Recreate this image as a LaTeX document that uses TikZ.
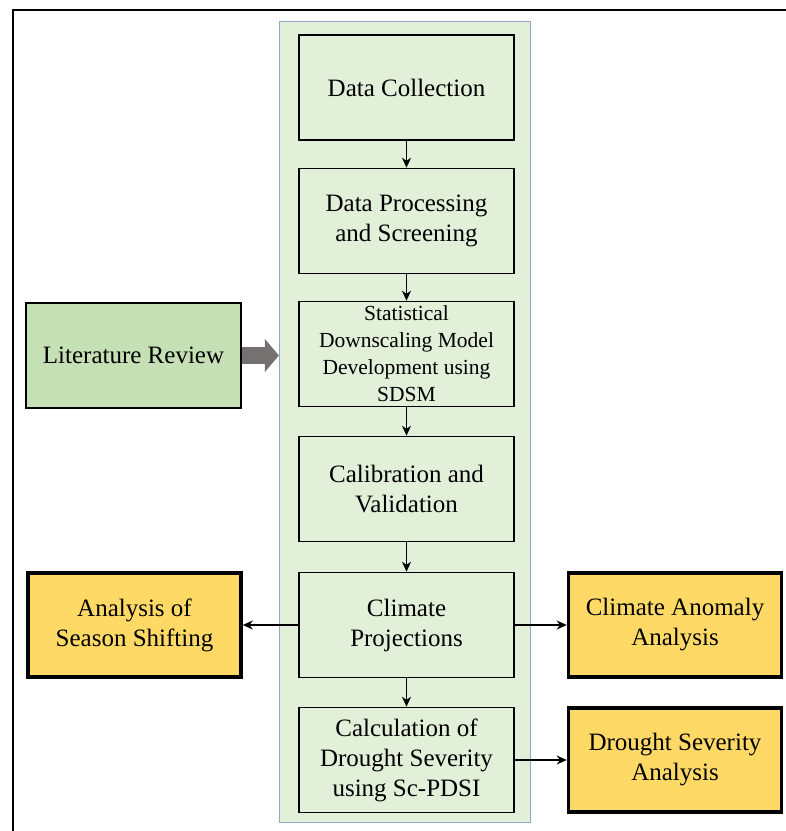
\documentclass[tikz,border=0pt]{standalone}
\usepackage{fontspec}
\setmainfont{Liberation Serif}
\usepackage{tikz}
\usetikzlibrary{arrows.meta, positioning}
\definecolor{boxgreen}{HTML}{E2EFD9}
\definecolor{litgreen}{HTML}{C5E0B4}
\definecolor{resultgold}{HTML}{FFD966}
\definecolor{frameblue}{HTML}{8EA9C8}
\definecolor{arrowgray}{HTML}{767171}

\begin{document}
\begin{tikzpicture}[x=1pt, y=-1pt,
    stage/.style={rectangle, draw=black, line width=1.6pt, fill=boxgreen, minimum width=215pt, minimum height=105pt, align=center, inner sep=2pt, font=\fontsize{25}{30}\selectfont},
    result/.style={rectangle, draw=black, line width=3.6pt, fill=resultgold, minimum width=213pt, minimum height=104pt, align=center, font=\fontsize{25}{30}\selectfont},
    review/.style={rectangle, draw=black, line width=2pt, fill=litgreen, minimum width=215pt, minimum height=105pt, align=center, font=\fontsize{25}{30}\selectfont},
    column/.style={rectangle, draw=frameblue, line width=1.2pt, fill=boxgreen, minimum width=251pt, minimum height=801pt},
    flow/.style={-{Stealth[length=10pt, width=9pt]}, line width=1.6pt},
    feed/.style={arrowgray, line width=17pt, -{Triangle[length=14pt, width=33pt, line width=0pt]}}]
\useasboundingbox (0,0) rectangle (786,831);
\draw[line width=2.4pt] (786,10) -- (13,10) -- (13,831);
\node[column] (frame) at (405,422) {};
\node[stage] (collect) at (406.5,87.5) {Data Collection};
\node[stage] (process) at (406.5,221) {Data Processing\\and Screening};
\node[stage, font=\fontsize{21.5}{27}\selectfont] (sdsm) at (406.5,354) {Statistical\\Downscaling Model\\Development using\\SDSM};
\node[stage] (calib) at (406.5,489) {Calibration and\\Validation};
\node[stage] (proj) at (406.5,625) {Climate\\Projections};
\node[stage] (calc) at (406.5,760) {Calculation of\\Drought Severity\\using Sc-PDSI};
\node[review] (lit) at (133.5,355.5) {Literature Review};
\node[result] (season) at (134.5,625) {Analysis of\\Season Shifting};
\node[result] (anomaly) at (675,625) {Climate Anomaly\\Analysis};
\node[result] (severity) at (675,760) {Drought Severity\\Analysis};
\draw[flow] (collect) -- (process);
\draw[flow] (process) -- (sdsm);
\draw[flow] (sdsm) -- (calib);
\draw[flow] (calib) -- (proj);
\draw[flow] (proj) -- (calc);
\draw[flow] (proj) -- (season);
\draw[flow] (proj) -- (anomaly);
\draw[flow] (calc) -- (severity);
\draw[feed] (lit.east) -- (frame.west |- lit.east);
\end{tikzpicture}
\end{document}
